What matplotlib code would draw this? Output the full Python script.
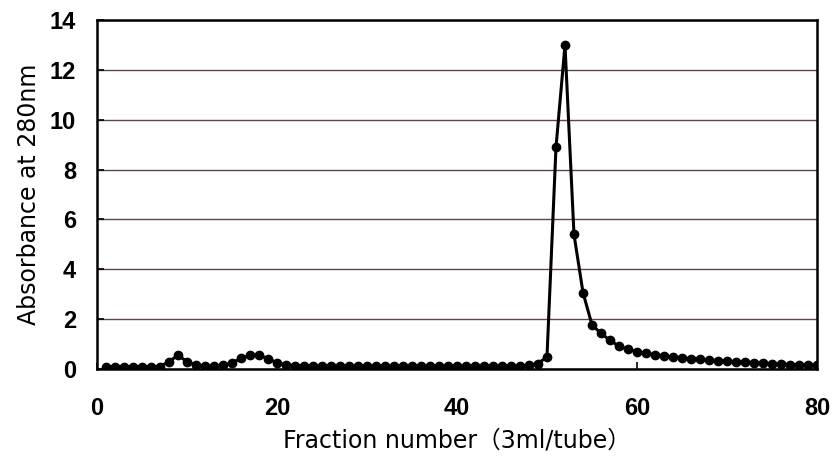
import matplotlib.pyplot as plt

plt.rcParams['font.family'] = ['DejaVu Sans', 'Noto Sans CJK JP']

# Elution profile, fractions 1-80
fractions = list(range(1, 81))
absorbance = [
    0.10, 0.10, 0.10, 0.10, 0.10, 0.10, 0.10, 0.30, 0.55, 0.30,
    0.15, 0.12, 0.12, 0.15, 0.25, 0.43, 0.55, 0.55, 0.42, 0.25,
    0.18, 0.14, 0.13, 0.12, 0.12, 0.12, 0.12, 0.12, 0.12, 0.12,
    0.12, 0.12, 0.12, 0.12, 0.12, 0.12, 0.12, 0.12, 0.12, 0.12,
    0.12, 0.12, 0.12, 0.12, 0.12, 0.12, 0.12, 0.15, 0.22, 0.49,
    8.90, 13.0, 5.40, 3.07, 1.77, 1.43, 1.15, 0.92, 0.79, 0.70,
    0.63, 0.58, 0.53, 0.49, 0.45, 0.42, 0.39, 0.36, 0.34, 0.32,
    0.30, 0.28, 0.26, 0.24, 0.22, 0.20, 0.18, 0.17, 0.16, 0.15,
]

fig = plt.figure(figsize=(8.34, 4.68), dpi=100)
ax = fig.add_axes([0.1163, 0.2115, 0.8633, 0.7455])

ax.plot(fractions, absorbance, color='black', linewidth=2.2, marker='o',
        markersize=6, zorder=3)

ax.set_xlim(0, 80)
ax.set_ylim(0, 14)
ax.set_xticks([0, 20, 40, 60, 80])
ax.set_yticks(range(0, 15, 2))
ax.grid(axis='y', color='#5e4450', linewidth=1)
ax.set_axisbelow(True)

for sp in ax.spines.values():
    sp.set_linewidth(1.8)
    sp.set_color('black')

ax.tick_params(direction='in', length=5, width=1.2, labelsize=17)
ax.tick_params(axis='x', pad=20)
ax.tick_params(axis='y', pad=15)
for lbl in ax.get_xticklabels() + ax.get_yticklabels():
    lbl.set_family('Liberation Sans')
    lbl.set_fontweight('bold')

ax.set_xlabel('Fraction number（3ml/tube）', fontsize=17, labelpad=6)
ax.set_ylabel('Absorbance at 280nm', fontsize=17, labelpad=6)

fig.savefig('out.png', dpi=100)
